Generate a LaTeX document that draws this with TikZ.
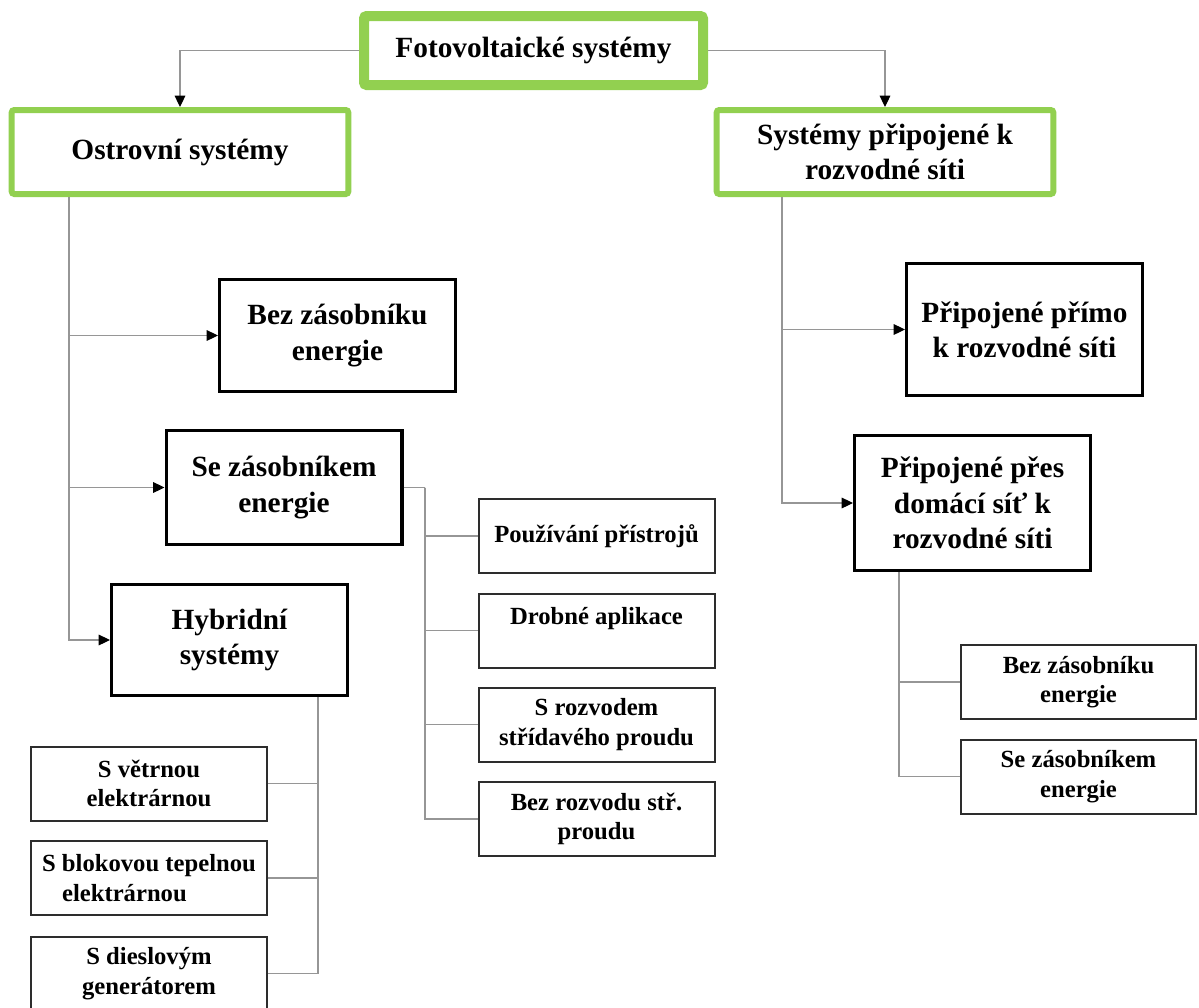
\documentclass[tikz,border=0pt]{standalone}
\usepackage{fontspec}
\setmainfont{Liberation Serif}
\usetikzlibrary{arrows.meta}
\definecolor{boxgreen}{RGB}{146,208,80}
\definecolor{conngray}{RGB}{150,150,150}
\definecolor{smallborder}{RGB}{45,45,45}
\newcommand\bigtxt{\fontsize{22}{26.5}\selectfont}
\newcommand\smalltxt{\fontsize{18.5}{22}\selectfont}
\begin{document}
\begin{tikzpicture}[x=0.75pt,y=-0.75pt,
  gbox/.style={draw=boxgreen,fill=white,rounded corners=2pt,align=center,inner sep=2pt,font=\bfseries\bigtxt},
  topbox/.style={gbox,line width=7.5pt,minimum width=254.25pt,minimum height=51.75pt},
  midbox/.style={gbox,line width=4.5pt,minimum width=252.5pt,minimum height=63pt},
  blkbox/.style={draw=black,fill=white,line width=2.6pt,align=center,inner sep=2pt,minimum width=176.65pt,font=\bfseries\bigtxt},
  smbox/.style={draw=smallborder,fill=white,line width=1.5pt,align=center,inner sep=2pt,minimum width=177pt,minimum height=55.5pt,font=\bfseries\smalltxt},
  conn/.style={draw=conngray,line width=0.8pt},
  arrowconn/.style={-{Triangle[length=8.5pt,width=8pt,color=black,fill=black]}}
]
\useasboundingbox (0,0) rectangle (1199,1007);
\clip (0,0) rectangle (1199,1007);
\fill[white] (0,0) rectangle (1199,1007);

% main boxes
\node[topbox] (top) at (533.5,50.5) {Fotovoltaické systémy};
\node[midbox] (ostrov) at (180,152) {Ostrovní systémy};
\node[midbox] (grid) at (885,152) {Systémy připojené k\\rozvodné síti};

% island systems
\node[blkbox,minimum height=83.65pt] (bez1) at (337.5,335.5) {Bez zásobníku\\energie};
\node[blkbox,minimum height=85.15pt] (se1) at (284,487.5) {Se zásobníkem\\energie};
\node[blkbox,minimum height=82.9pt] (hyb) at (229.5,640) {Hybridní\\systémy};

\node[smbox] (pouz) at (596.5,536) {Používání přístrojů};
\node[smbox] (drob) at (596.5,630.5) {Drobné aplikace\\\mbox{}};
\node[smbox] (sroz) at (596.5,724.5) {S rozvodem\\střídavého proudu};
\node[smbox] (bezroz) at (596.5,819) {Bez rozvodu stř.\\proudu};

\node[smbox] (vetr) at (149,783.5) {S větrnou\\elektrárnou};
\node[smbox,align=left] (blok) at (149,878) {S blokovou tepelnou\\\hspace*{15pt}elektrárnou};
\node[smbox] (diesel) at (149,973.5) {S dieslovým\\generátorem};

% grid systems
\node[blkbox,minimum height=98.65pt] (primo) at (1024.5,329.5) {Připojené přímo\\k rozvodné síti};
\node[blkbox,minimum height=100.9pt] (pres) at (972.5,503) {Připojené přes\\domácí síť k\\rozvodné síti};

\node[smbox,minimum width=176.25pt] (rbez) at (1078.5,682) {Bez zásobníku\\energie};
\node[smbox,minimum width=176.25pt] (rse) at (1078.5,776.5) {Se zásobníkem\\energie};

% trunk coordinates
\coordinate (oT) at (69,197);
\coordinate (sT) at (425,487.5);
\coordinate (hT) at (318,697);
\coordinate (gT) at (782,197);
\coordinate (pT) at (899,572);

% connectors
\draw[conn,arrowconn] (top.west) -| (ostrov.north);
\draw[conn,arrowconn] (top.east) -| (grid.north);

\draw[conn,arrowconn] (oT) |- (bez1.west);
\draw[conn,arrowconn] (oT) |- (se1.west);
\draw[conn,arrowconn] (oT) |- (hyb.west);

\draw[conn] (se1.east) -- (sT);
\draw[conn] (sT) |- (pouz.west);
\draw[conn] (sT) |- (drob.west);
\draw[conn] (sT) |- (sroz.west);
\draw[conn] (sT) |- (bezroz.west);

\draw[conn] (hT) |- (vetr.east);
\draw[conn] (hT) |- (blok.east);
\draw[conn] (hT) |- (diesel.east);

\draw[conn,arrowconn] (gT) |- (primo.west);
\draw[conn,arrowconn] (gT) |- (pres.west);

\draw[conn] (pT) |- (rbez.west);
\draw[conn] (pT) |- (rse.west);
\end{tikzpicture}
\end{document}
